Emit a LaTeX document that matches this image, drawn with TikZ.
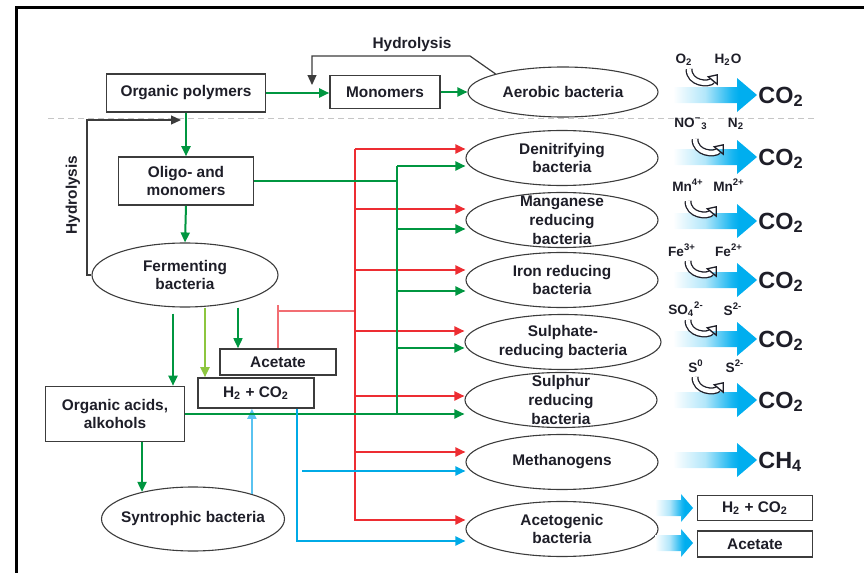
\documentclass[tikz,border=0pt]{standalone}
\usepackage{fontspec}
\setmainfont{Liberation Sans}
\usetikzlibrary{shapes.geometric,arrows.meta,calc}

\definecolor{grn}{RGB}{0,150,64}
\definecolor{lgrn}{RGB}{141,198,63}
\definecolor{rd}{RGB}{237,45,50}
\definecolor{rdl}{RGB}{242,110,115}
\definecolor{bl}{RGB}{0,170,230}
\definecolor{lbl}{RGB}{90,195,240}
\definecolor{flow}{RGB}{0,174,239}
\definecolor{txt}{RGB}{30,30,40}
\definecolor{edge}{RGB}{60,60,60}
\pgfdeclarehorizontalshading{flowshade}{100bp}{color(0bp)=(white); color(25bp)=(white); color(44bp)=(flow!30); color(60bp)=(flow!90); color(64bp)=(flow); color(100bp)=(flow)}

\begin{document}
\begin{tikzpicture}[x=0.5pt,y=-0.5pt,
    every node/.style={font=\fontsize{7.7}{9.4}\selectfont\bfseries, text=txt},
    box/.style={draw=edge, line width=0.8pt, fill=white, align=center, inner sep=0pt},
    bact/.style={ellipse, draw=edge, line width=0.55pt, minimum width=96pt, minimum height=27.5pt, inner sep=0pt, align=center},
    arr/.style={-{Triangle[length=5pt,width=4.5pt]}},
    gw/.style={draw=grn, line width=1pt},
    rw/.style={draw=rd, line width=1pt},
    bw/.style={draw=bl, line width=1pt},
    hyd/.style={draw=edge, line width=0.6pt},
    chem/.style={font=\fontsize{6.8}{8}\selectfont\bfseries, inner sep=0pt},
    prod/.style={font=\fontsize{11.7}{13}\selectfont\bfseries, anchor=west, inner sep=0pt},
    curl/.style={draw=txt, double=white, double distance=2.2pt, line width=0.65pt, -{Triangle[open,length=4.5pt,width=7pt]}}]

    \useasboundingbox (0,0) rectangle (864,573);
    \draw[line width=1.5pt] (16,573) -- (16,7) -- (864,7);
    \draw[gray!45, densely dashed, line width=0.5pt] (48,118) -- (815,118);

    \node[box, minimum width=79.5pt, minimum height=19pt] (poly) at (186,93) {Organic polymers};
    \node[box, minimum width=55pt, minimum height=16.5pt] (mono) at (385,92) {Monomers};
    \node[bact, minimum width=95pt, minimum height=25pt] (aer) at (563,92) {Aerobic bacteria};
    \node[box, minimum width=67.5pt, minimum height=24pt] (olig) at (186,181) {Oligo- and\\monomers};
    \node[bact, minimum width=93pt, minimum height=32pt] (ferm) at (185,275) {Fermenting\\bacteria};
    \node[box, minimum width=58pt, minimum height=13pt] (acet) at (278,362) {Acetate};
    \node[box, minimum width=58pt, minimum height=15pt] (hyd2) at (256,393) {H\textsubscript{2} + CO\textsubscript{2}};
    \node[box, minimum width=69.5pt, minimum height=27.5pt] (acid) at (115,414) {Organic acids,\\alkohols};
    \node[bact, minimum width=91.5pt, minimum height=32pt, inner xsep=-6pt] (synt) at (193,519) {Syntrophic bacteria};

    \node[bact] (den) at (562,158) {Denitrifying\\bacteria};
    \node[bact, inner ysep=-3.5pt] (mang) at (562,220) {Manganese\\reducing\\bacteria};
    \node[bact] (iron) at (562,280) {Iron reducing\\bacteria};
    \node[bact, minimum width=98pt] (sulf) at (563,342) {Sulphate-\\reducing bacteria};
    \node[bact, inner ysep=-3.5pt] (sulr) at (561,400) {Sulphur\\reducing\\bacteria};
    \node[bact] (meth) at (562,462) {Methanogens};
    \node[bact] (acgn) at (562,529) {Acetogenic\\bacteria};

    \node[box, minimum width=57.5pt, minimum height=12.5pt] (oh2) at (755,508) {H\textsubscript{2} + CO\textsubscript{2}};
    \node[box, minimum width=57.5pt, minimum height=13pt] (oac) at (755,544) {Acetate};

    \draw[gw, arr] (poly.east) -- (poly.east -| mono.west);
    \draw[gw, arr] (mono.east) -- (aer.west);
    \draw[gw, arr] (poly.south) -- (olig.north);
    \draw[gw, arr] (olig.south) -- (ferm.north);

    \coordinate (h1) at (312,85);
    \coordinate (h2) at (181,120);
    \draw[hyd, arr] (aer.165) -- (470,56) -- (h1 |- 0,56) -- (h1);
    \node (hyl1) at (412,45) {Hydrolysis};
    \draw[hyd, arr] (ferm.west) -- (87,275) |- (h2);
    \node[rotate=90] (hyl2) at (73,195) {Hydrolysis};

    \draw[gw, arr] ($(ferm.south -| 173,0)+(0,6)$) -- (acid.north -| 173,0);
    \draw[draw=lgrn, line width=1pt, arr] (ferm.south -| 205,0) -- (hyd2.north -| 205,0);
    \draw[draw=grn, line width=0.8pt, arr] (ferm.south -| 238,0) -- (acet.north -| 238,0);
    \draw[gw, arr] (acid.south -| synt.152) -- (synt.152);
    \draw[draw=lbl, line width=0.8pt, arr] (synt.23) -- (synt.23 |- hyd2.south);

    \coordinate (rj) at (355,311);
    \coordinate (rtop) at (355,149);
    \draw[draw=rdl, line width=0.8pt] (acet.north) -- (acet.north |- 0,305) (acet.north |- rj) -- (rj);
    \draw[rw] (rtop) -- (rtop |- 0,521);
    \foreach \n/\y in {den/149, mang/209, iron/270, sulf/331, sulr/396, meth/452, acgn/520}
        \draw[rw, arr] (rtop |- 0,\y) -- (\n.west |- 0,\y);

    \coordinate (gtop) at (397,166);
    \draw[gw] (olig.east) -- (olig.east -| gtop);
    \draw[gw] (gtop) -- (gtop |- acid.east);
    \draw[gw, arr] (acid.east) -- (acid.east -| sulr.west);
    \foreach \n/\y in {den/166, mang/229, iron/291, sulf/348}
        \draw[gw, arr] (gtop |- 0,\y) -- (\n.west |- 0,\y);

    \draw[bw, arr] (hyd2.south -| 297,0) |- (acgn.west |- 0,541);
    \coordinate (bm) at (302,471);
    \draw[bw, arr] (bm) -- (bm -| meth.west);

    \foreach \y/\t [count=\i] in {95/CO\textsubscript{2}, 157/CO\textsubscript{2}, 221/CO\textsubscript{2}, 280/CO\textsubscript{2}, 339/CO\textsubscript{2}, 400/CO\textsubscript{2}, 460/CH\textsubscript{4}} {
        \shade[shading=flowshade] (673,{\y-8}) -- (737,{\y-8}) -- (737,{\y-17}) -- (757,\y)
            -- (737,{\y+17}) -- (737,{\y+8}) -- (673,{\y+8}) -- cycle;
        \node[prod] (out\i) at (758,{\y+2}) {\t};
    }
    \foreach \y in {508,543}
        \shade[shading=flowshade] (655,{\y-8}) -- (681,{\y-8}) -- (681,{\y-14}) -- (693,\y)
            -- (681,{\y+14}) -- (681,{\y+8}) -- (655,{\y+8}) -- cycle;

    \foreach \a/\ax/\b/\bx/\ly/\cx/\cy [count=\i] in {
        O\textsubscript{2}/684/H\textsubscript{2}O/728/60/689/69,
        NO\textsuperscript{−}\textsubscript{3}/691/N\textsubscript{2}/736/124/695/139,
        Mn\textsuperscript{4+}/688/Mn\textsuperscript{2+}/729/185/688/201,
        Fe\textsuperscript{3+}/682/Fe\textsuperscript{2+}/729/250/688/261,
        SO\textsubscript{4}\textsuperscript{2-}/686/S\textsuperscript{2-}/733/309/688/320,
        S\textsuperscript{0}/696/S\textsuperscript{2-}/735/366/695/377} {
        \node[chem] (in\i) at (\ax,\ly) {\a};
        \node[chem] (ox\i) at (\bx,\ly) {\b};
        \draw[curl] (\cx,\cy) .. controls (\cx,{\cy+15}) and ({\cx+20},{\cy+16}) .. ({\cx+29},{\cy+5});
    }
\end{tikzpicture}
\end{document}
